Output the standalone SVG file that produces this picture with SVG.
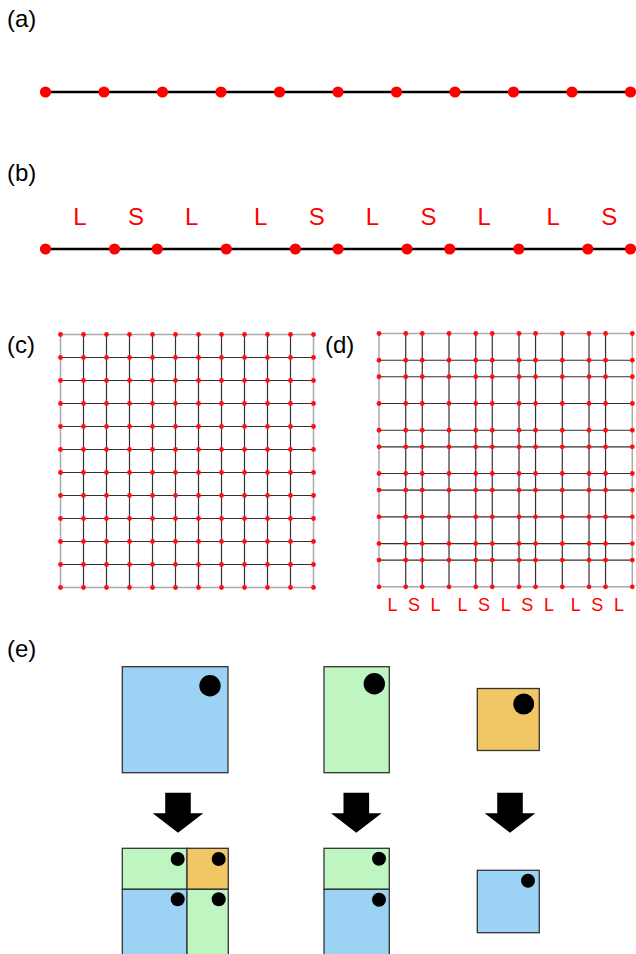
<svg xmlns="http://www.w3.org/2000/svg" xmlns:xlink="http://www.w3.org/1999/xlink" width="636" height="954" viewBox="0 0 636 954">
  <style>
    .lbl { font-family: "Liberation Sans", Arial, sans-serif; font-size: 24px; fill: #000; }
    .ls { font-family: "Liberation Sans", Arial, sans-serif; font-size: 24px; fill: #ff0000; text-anchor: middle; }
    .ls-sm { font-family: "Liberation Sans", Arial, sans-serif; font-size: 18px; fill: #ff0000; text-anchor: middle; }
    .chain { stroke: #000; stroke-width: 2.6; fill: none; }
    .bigdot { fill: #ff0000; }
    .gline { stroke: #333; stroke-width: 1.2; fill: none; }
    .gborder { stroke: #aaa; stroke-width: 1.5; fill: none; }
    .gdot { fill: #ff1010; }
    .tile { stroke: #333; stroke-width: 1.3; }
    .blue { fill: #9cd3f4; }
    .green { fill: #bef5c1; }
    .orange { fill: #f1c766; }
    .spot { fill: #000; }
    .arrow { fill: #000; }
  </style>
  <defs>
    <!-- one row of 12 evenly spaced lattice points -->
    <g id="rowC" class="gdot">
      <circle cx="60.5" cy="0" r="2.4"/><circle cx="83.5" cy="0" r="2.4"/><circle cx="106.5" cy="0" r="2.4"/>
      <circle cx="129.5" cy="0" r="2.4"/><circle cx="152.5" cy="0" r="2.4"/><circle cx="175.5" cy="0" r="2.4"/>
      <circle cx="198.5" cy="0" r="2.4"/><circle cx="221.5" cy="0" r="2.4"/><circle cx="244.5" cy="0" r="2.4"/>
      <circle cx="267.5" cy="0" r="2.4"/><circle cx="290.5" cy="0" r="2.4"/><circle cx="313.5" cy="0" r="2.4"/>
    </g>
    <!-- one row of 12 Fibonacci-spaced lattice points -->
    <g id="rowD" class="gdot">
      <circle cx="379" cy="0" r="2.4"/><circle cx="405.74" cy="0" r="2.4"/><circle cx="422.27" cy="0" r="2.4"/>
      <circle cx="449.01" cy="0" r="2.4"/><circle cx="475.75" cy="0" r="2.4"/><circle cx="492.28" cy="0" r="2.4"/>
      <circle cx="519.02" cy="0" r="2.4"/><circle cx="535.55" cy="0" r="2.4"/><circle cx="562.29" cy="0" r="2.4"/>
      <circle cx="589.03" cy="0" r="2.4"/><circle cx="605.56" cy="0" r="2.4"/><circle cx="632.3" cy="0" r="2.4"/>
    </g>
    <!-- block arrow pointing down, origin at top centre -->
    <path id="downArrow" d="M-12.8,0 H12.8 V20.6 H25.3 L0,40 L-25.3,20.6 H-12.8 Z"/>
  </defs>

  <!-- panel labels -->
  <g id="labels" class="lbl">
    <text x="7" y="27">(a)</text>
    <text x="7" y="181">(b)</text>
    <text x="7" y="353">(c)</text>
    <text x="325" y="353">(d)</text>
    <text x="7" y="657">(e)</text>
  </g>

  <!-- (a) periodic chain -->
  <g id="chainA">
    <line class="chain" x1="45.5" y1="92" x2="630.5" y2="92"/>
    <g class="bigdot">
      <circle cx="45.5" cy="92" r="5.6"/><circle cx="104" cy="92" r="5.6"/><circle cx="162.5" cy="92" r="5.6"/>
      <circle cx="221" cy="92" r="5.6"/><circle cx="279.5" cy="92" r="5.6"/><circle cx="338" cy="92" r="5.6"/>
      <circle cx="396.5" cy="92" r="5.6"/><circle cx="455" cy="92" r="5.6"/><circle cx="513.5" cy="92" r="5.6"/>
      <circle cx="572" cy="92" r="5.6"/><circle cx="630.5" cy="92" r="5.6"/>
    </g>
  </g>

  <!-- (b) Fibonacci chain -->
  <g id="chainB">
    <line class="chain" x1="45.5" y1="249" x2="630.5" y2="249"/>
    <g class="bigdot">
      <circle cx="45.5" cy="249" r="5.6"/><circle cx="114.55" cy="249" r="5.6"/><circle cx="157.23" cy="249" r="5.6"/>
      <circle cx="226.28" cy="249" r="5.6"/><circle cx="295.33" cy="249" r="5.6"/><circle cx="338.01" cy="249" r="5.6"/>
      <circle cx="407.06" cy="249" r="5.6"/><circle cx="449.74" cy="249" r="5.6"/><circle cx="518.79" cy="249" r="5.6"/>
      <circle cx="587.84" cy="249" r="5.6"/><circle cx="630.5" cy="249" r="5.6"/>
    </g>
    <g class="ls">
      <text x="80" y="225">L</text><text x="135.9" y="225">S</text><text x="191.8" y="225">L</text>
      <text x="260.8" y="225">L</text><text x="316.7" y="225">S</text><text x="372.5" y="225">L</text>
      <text x="428.4" y="225">S</text><text x="484.3" y="225">L</text><text x="553.3" y="225">L</text>
      <text x="609.2" y="225">S</text>
    </g>
  </g>

  <!-- (c) square lattice -->
  <g id="gridC">
    <path class="gline" d="M83.5,334.5V587.5M106.5,334.5V587.5M129.5,334.5V587.5M152.5,334.5V587.5M175.5,334.5V587.5M198.5,334.5V587.5M221.5,334.5V587.5M244.5,334.5V587.5M267.5,334.5V587.5M290.5,334.5V587.5
      M60.5,357.5H313.5M60.5,380.5H313.5M60.5,403.5H313.5M60.5,426.5H313.5M60.5,449.5H313.5M60.5,472.5H313.5M60.5,495.5H313.5M60.5,518.5H313.5M60.5,541.5H313.5M60.5,564.5H313.5"/>
    <rect class="gborder" x="60.5" y="334.5" width="253" height="253"/>
    <use xlink:href="#rowC" y="334.5"/><use xlink:href="#rowC" y="357.5"/><use xlink:href="#rowC" y="380.5"/>
    <use xlink:href="#rowC" y="403.5"/><use xlink:href="#rowC" y="426.5"/><use xlink:href="#rowC" y="449.5"/>
    <use xlink:href="#rowC" y="472.5"/><use xlink:href="#rowC" y="495.5"/><use xlink:href="#rowC" y="518.5"/>
    <use xlink:href="#rowC" y="541.5"/><use xlink:href="#rowC" y="564.5"/><use xlink:href="#rowC" y="587.5"/>
  </g>

  <!-- (d) Fibonacci lattice -->
  <g id="gridD">
    <path class="gline" d="M405.74,333.5V586.8M422.27,333.5V586.8M449.01,333.5V586.8M475.75,333.5V586.8M492.28,333.5V586.8M519.02,333.5V586.8M535.55,333.5V586.8M562.29,333.5V586.8M589.03,333.5V586.8M605.56,333.5V586.8
      M379,360.24H632.3M379,376.77H632.3M379,403.51H632.3M379,430.25H632.3M379,446.78H632.3M379,473.52H632.3M379,490.05H632.3M379,516.79H632.3M379,543.53H632.3M379,560.06H632.3"/>
    <rect class="gborder" x="379" y="333.5" width="253.3" height="253.3"/>
    <use xlink:href="#rowD" y="333.5"/><use xlink:href="#rowD" y="360.24"/><use xlink:href="#rowD" y="376.77"/>
    <use xlink:href="#rowD" y="403.51"/><use xlink:href="#rowD" y="430.25"/><use xlink:href="#rowD" y="446.78"/>
    <use xlink:href="#rowD" y="473.52"/><use xlink:href="#rowD" y="490.05"/><use xlink:href="#rowD" y="516.79"/>
    <use xlink:href="#rowD" y="543.53"/><use xlink:href="#rowD" y="560.06"/><use xlink:href="#rowD" y="586.8"/>
    <g class="ls-sm">
      <text x="392.4" y="611">L</text><text x="414" y="611">S</text><text x="435.6" y="611">L</text>
      <text x="462.4" y="611">L</text><text x="484" y="611">S</text><text x="505.7" y="611">L</text>
      <text x="527.3" y="611">S</text><text x="548.9" y="611">L</text><text x="575.7" y="611">L</text>
      <text x="597.3" y="611">S</text><text x="618.9" y="611">L</text>
    </g>
  </g>

  <!-- (e) tiles before substitution -->
  <g id="tileLL">
    <rect class="tile blue" x="122.3" y="666.7" width="105.7" height="106"/>
    <circle class="spot" cx="210" cy="685.7" r="10.7"/>
  </g>
  <g id="tileSL">
    <rect class="tile green" x="324" y="666.7" width="65.3" height="106"/>
    <circle class="spot" cx="374.3" cy="683.7" r="10.7"/>
  </g>
  <g id="tileSS">
    <rect class="tile orange" x="477.3" y="688.5" width="62" height="62"/>
    <circle class="spot" cx="523.7" cy="704" r="10.5"/>
  </g>

  <!-- substitution arrows -->
  <g id="connectors" class="arrow">
    <use xlink:href="#downArrow" x="178" y="792.7"/>
    <use xlink:href="#downArrow" x="356.3" y="792.7"/>
    <use xlink:href="#downArrow" x="510" y="792.7"/>
  </g>

  <!-- (e) tiles after substitution -->
  <g id="tileLLsub">
    <rect class="tile green" x="122.3" y="848.3" width="64.7" height="41"/>
    <rect class="tile orange" x="187" y="848.3" width="41.3" height="41"/>
    <rect class="tile blue" x="122.3" y="889.3" width="64.7" height="66"/>
    <rect class="tile green" x="187" y="889.3" width="41.3" height="66"/>
    <g class="spot">
      <circle cx="177.7" cy="859" r="7"/><circle cx="218.7" cy="859" r="7"/>
      <circle cx="177.7" cy="899.3" r="7"/><circle cx="218.7" cy="899.3" r="7"/>
    </g>
  </g>
  <g id="tileSLsub">
    <rect class="tile green" x="324" y="848.3" width="65.3" height="41"/>
    <rect class="tile blue" x="324" y="889.3" width="65.3" height="66"/>
    <g class="spot">
      <circle cx="379" cy="858.7" r="7"/><circle cx="379" cy="899.7" r="7"/>
    </g>
  </g>
  <g id="tileSSsub">
    <rect class="tile blue" x="477.3" y="870.3" width="62" height="62.4"/>
    <circle class="spot" cx="528" cy="880.7" r="7"/>
  </g>
</svg>
